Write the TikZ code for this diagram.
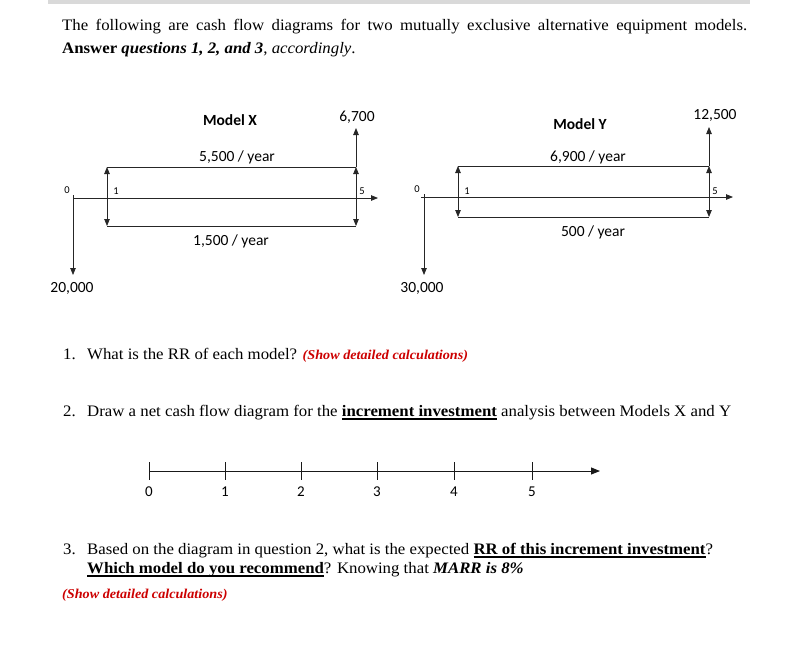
\documentclass[tikz,border=0pt]{standalone}
\usepackage{fontspec}
\setmainfont{Liberation Serif}[FakeStretch=1.05]
\newfontfamily\calfont{Carlito}
\usetikzlibrary{arrows.meta}
\definecolor{qred}{RGB}{204,0,0}
\definecolor{barg}{RGB}{217,217,217}
\newcommand\thickul[1]{\setbox0\hbox{#1}\rlap{\rule[-3.8pt]{\wd0}{1.9pt}}\box0\relax}
\begin{document}
\begin{tikzpicture}[x=1pt,y=-1pt,
  ln/.style={line width=0.8pt, draw=black!85},
  arr/.style={ln, -{Triangle[length=7pt,width=5.5pt]}},
  darr/.style={ln, {Triangle[length=7pt,width=5.5pt]}-{Triangle[length=7pt,width=5.5pt]}},
  numln/.style={line width=1pt, draw=black!90},
  numarr/.style={numln, -{Triangle[length=9pt,width=7pt]}},
  lbl/.style={font=\calfont\fontsize{15.5}{17}\selectfont, inner sep=0pt},
  ttl/.style={font=\calfont\bfseries\fontsize{15.5}{17}\selectfont, inner sep=0pt},
  sm/.style={font=\calfont\fontsize{10.5}{12}\selectfont, inner sep=0pt},
  nl/.style={font=\calfont\fontsize{15}{17}\selectfont, inner sep=0pt},
  txt/.style={font=\fontsize{16}{19}\selectfont, anchor=base west, inner sep=0pt},
  red/.style={font=\fontsize{13.5}{15}\selectfont\bfseries\itshape, text=qred, anchor=base west, inner sep=0pt},
]
\useasboundingbox (0,0) rectangle (811,665);
\fill[barg] (48,0) rectangle (750,4);

% intro
\node[txt] (intro1) at (62,30) {\makebox[685pt][s]{The following are cash flow diagrams for two mutually exclusive alternative equipment models.}};
\node[txt] (intro2) at (62,53) {\textbf{Answer} \textbf{\textit{questions 1, 2, and 3}}, \textit{accordingly}.};

% ---------- Model X ----------
\coordinate (xo) at (73,198);
\coordinate (xds) at (73,195);
\coordinate (xe) at (378,198);
\coordinate (xd) at (73,275);
\coordinate (x1t) at (107,167);
\coordinate (x1b) at (107,226);
\coordinate (x5t) at (356,167);
\coordinate (x5b) at (356,226);
\coordinate (x5u) at (356,128);
\draw[arr] (xo) -- (xe);
\draw[arr] (xds) -- (xd);
\draw[darr] (x1t) -- (x1b);
\draw[darr] (x5t) -- (x5b);
\draw[arr] (x5t) -- (x5u);
\draw[ln] (x1t) -- (x5t);
\draw[ln] (x1b) -- (x5b);
\node[ttl] (mx) at (230,120) {Model X};
\node[lbl] (x67) at (357,117) {6,700};
\node[lbl] (x55) at (237,157) {5,500 / year};
\node[lbl] (x15) at (231,241) {1,500 / year};
\node[lbl] (x20) at (72,288) {20,000};
\node[sm] (x0l) at (67,190) {0};
\node[sm] (x1l) at (116,191) {1};
\node[sm] (x5l) at (362,191) {5};

% ---------- Model Y ----------
\coordinate (yo) at (421,197);
\coordinate (ye) at (733,197);
\coordinate (yds) at (424,194);
\coordinate (yd) at (424,275);
\coordinate (y1t) at (458,166);
\coordinate (y1b) at (458,217);
\coordinate (y5t) at (709,166);
\coordinate (y5b) at (709,217);
\coordinate (y5u) at (709,127);
\draw[arr] (yo) -- (ye);
\draw[arr] (yds) -- (yd);
\draw[darr] (y1t) -- (y1b);
\draw[darr] (y5t) -- (y5b);
\draw[arr] (y5t) -- (y5u);
\draw[ln] (y1t) -- (y5t);
\draw[ln] (y1b) -- (y5b);
\node[ttl] (my) at (580,124) {Model Y};
\node[lbl] (y125) at (715,115) {12,500};
\node[lbl] (y69) at (588,157) {6,900 / year};
\node[lbl] (y5y) at (593,232) {500 / year};
\node[lbl] (y30) at (422,288) {30,000};
\node[sm] (y0l) at (417,189) {0};
\node[sm] (y1l) at (467,191) {1};
\node[sm] (y5l) at (715,191) {5};

% ---------- Question 1 ----------
\node[txt] (q1n) at (63,359) {1.};
\node[txt] (q1) at (87,359) {What is the RR of each model? \textcolor{qred}{\fontsize{13.5}{15}\selectfont\bfseries\itshape (Show detailed calculations)}};

% ---------- Question 2 ----------
\node[txt] (q2n) at (63,416) {2.};
\node[txt] (q2) at (87,416) {Draw a net cash flow diagram for the \thickul{\textbf{increment investment}} analysis between Models X and Y};

% number line
\coordinate (n0) at (149,471);
\coordinate (nend) at (600,471);
\draw[numarr] (n0) -- (nend);
\foreach \x/\l in {149/0,225/1,301/2,377/3,454/4,532/5}{
  \draw[numln] (\x,462) -- (\x,480);
  \node[nl] (nl\l) at (\x,492) {\l};
}

% ---------- Question 3 ----------
\node[txt] (q3n) at (63,554) {3.};
\node[txt] (q3a) at (87,554) {Based on the diagram in question 2, what is the expected \thickul{\textbf{RR of this increment investment}}?};
\node[txt] (q3b) at (87,573) {\thickul{\textbf{Which model do you recommend}}? Knowing that \textbf{\textit{MARR is 8\%}}};
\node[red] (q3r) at (62,598) {(Show detailed calculations)};
\end{tikzpicture}
\end{document}
